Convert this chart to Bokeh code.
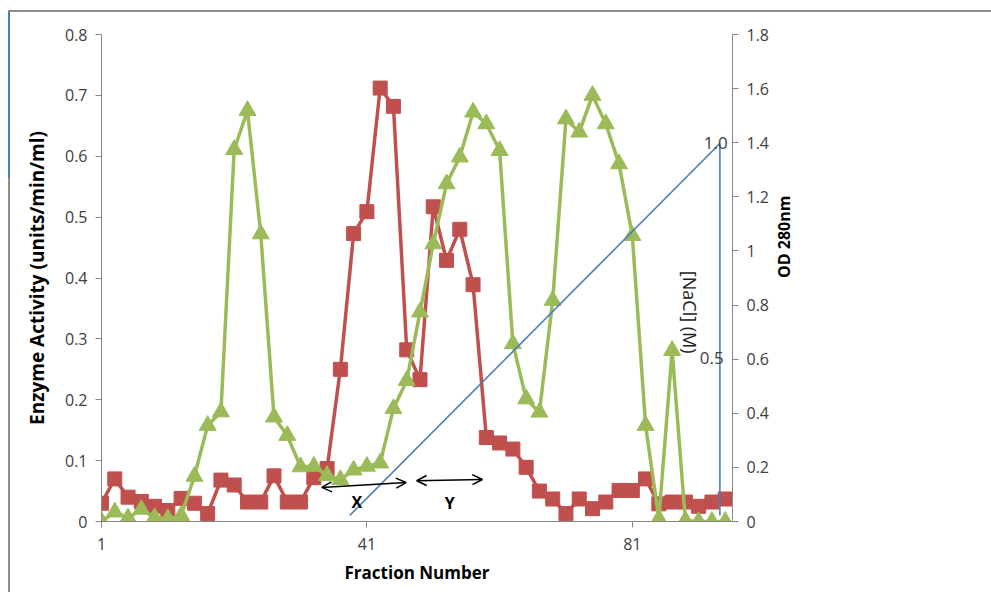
import math
from bokeh.plotting import figure
from bokeh.models import Range1d, LinearAxis, FixedTicker, NumeralTickFormatter, Arrow, OpenHead, Label
from bokeh.embed import file_html
from bokeh.resources import INLINE

# ---------------- data ----------------
fractions = [1, 3, 5, 7, 9, 11, 13, 15, 17, 19, 21, 23, 25, 27, 29, 31,
             33, 35, 37, 39, 41, 43, 45, 47, 49, 51, 53, 55, 57, 59, 61, 63,
             65, 67, 69, 71, 73, 75, 77, 79, 81, 83, 85, 87, 89, 91, 93, 95]
enzyme_activity = [0.030, 0.070, 0.040, 0.033, 0.025, 0.018, 0.038, 0.030,
                   0.013, 0.068, 0.060, 0.032, 0.032, 0.075, 0.032, 0.032,
                   0.072, 0.087, 0.250, 0.473, 0.509, 0.712, 0.682, 0.282,
                   0.233, 0.517, 0.429, 0.480, 0.389, 0.138, 0.129, 0.119,
                   0.089, 0.050, 0.037, 0.013, 0.037, 0.021, 0.032, 0.051,
                   0.051, 0.070, 0.029, 0.032, 0.032, 0.025, 0.032, 0.037]
od280 = [0.000, 0.035, 0.013, 0.045, 0.015, 0.010, 0.022, 0.167,
         0.355, 0.405, 1.375, 1.519, 1.063, 0.386, 0.318, 0.202,
         0.204, 0.170, 0.155, 0.190, 0.204, 0.216, 0.417, 0.521,
         0.774, 1.026, 1.248, 1.347, 1.513, 1.470, 1.371, 0.657,
         0.453, 0.404, 0.817, 1.488, 1.439, 1.575, 1.470, 1.322,
         1.057, 0.355, 0.010, 0.632, 0.004, 0.000, 0.000, 0.000]
nacl_fraction = [38.4, 94.2, 94.2]
nacl_molar = [0.0, 1.0, 0.0]

left_ticks = [0, 0.1, 0.2, 0.3, 0.4, 0.5, 0.6, 0.7, 0.8]
right_ticks = [0, 0.2, 0.4, 0.6, 0.8, 1.0, 1.2, 1.4, 1.6, 1.8]
x_ticks = [1, 41, 81]

RED = "#C0504D"
GREEN = "#9BBB59"
BLUE = "#4A7EBB"
AX = "#868686"
TXT = "#404040"
FONT = "Open Sans"

p = figure(frame_width=631, frame_height=487,
           min_border_left=91, min_border_top=22,
           min_border_right=259, min_border_bottom=71,
           x_range=Range1d(1, 96.1), y_range=Range1d(0, 0.8),
           output_backend="svg", toolbar_location=None, tools="")
p.extra_y_ranges = {"od": Range1d(0, 1.8), "nacl": Range1d(-0.0161, 1.293)}
p.styles = {"margin-left": "8px", "margin-top": "12px",
            "border-left": "2px solid #8e8e8e",
            "border-image": "linear-gradient(to bottom, #4A7EBB 0px, #4A7EBB 166px, #8e8e8e 166px, #8e8e8e 100%) 1",
            "box-shadow": "0px -2px 0px 0px #8e8e8e"}
p.outline_line_color = None
p.xgrid.visible = False
p.ygrid.visible = False
p.background_fill_color = "white"
p.border_fill_color = "white"

right = LinearAxis(y_range_name="od")
p.add_layout(right, "right")

for ax in [p.xaxis[0], p.yaxis[0], right]:
    ax.axis_line_color = AX
    ax.major_tick_line_color = AX
    ax.major_tick_out = 6
    ax.major_tick_in = 0
    ax.minor_tick_line_color = None
    ax.major_label_text_font = FONT
    ax.major_label_text_font_size = "16px"
    ax.major_label_text_color = TXT
    ax.axis_label_text_font = FONT
    ax.axis_label_text_font_style = "bold"
    ax.axis_label_text_color = "black"

p.yaxis[0].ticker = FixedTicker(ticks=left_ticks)
p.yaxis[0].formatter = NumeralTickFormatter(format="0.[0]")
p.yaxis[0].major_label_standoff = 8
p.yaxis[0].axis_label = "Enzyme Activity (units/min/ml)"
p.yaxis[0].axis_label_text_font_size = "19px"
p.yaxis[0].axis_label_standoff = 12

right.ticker = FixedTicker(ticks=right_ticks)
right.formatter = NumeralTickFormatter(format="0.[0]")
right.major_label_standoff = 8
right.axis_label = "OD 280nm"
right.axis_label_text_font_size = "16px"
right.axis_label_standoff = 12
try:
    right.axis_label_orientation = math.pi / 2
except Exception:
    pass

p.xaxis[0].ticker = FixedTicker(ticks=x_ticks)
p.xaxis[0].major_label_standoff = 10
p.xaxis[0].axis_label = "Fraction Number"
p.xaxis[0].axis_label_text_font_size = "17px"
p.xaxis[0].axis_label_standoff = 8

# series
p.line(fractions, enzyme_activity, line_color=RED, line_width=3.5)
p.scatter(fractions, enzyme_activity, marker="square", size=14,
          fill_color=RED, line_color=RED)
p.line(fractions, od280, line_color=GREEN, line_width=3.5, y_range_name="od")
p.scatter(fractions, od280, marker="triangle", size=17,
          fill_color=GREEN, line_color=GREEN, y_range_name="od")
p.line(nacl_fraction, nacl_molar, line_color=BLUE, line_width=1.6,
       y_range_name="nacl")

# NaCl annotations
p.add_layout(Label(x=95.37, y=0.6214, text="1.0", text_align="right",
                   text_baseline="middle", text_font=FONT,
                   text_font_size="17px", text_color=TXT))
p.add_layout(Label(x=94.77, y=0.2689, text="0.5", text_align="right",
                   text_baseline="middle", text_font=FONT,
                   text_font_size="17px", text_color=TXT))
p.add_layout(Label(x=89.65, y=0.3438, text="[NaCl] (M)", angle=-math.pi / 2,
                   text_align="center", text_baseline="middle",
                   text_font=FONT, text_font_size="18px",
                   text_color="#222222"))

# X / Y arrows
arrow_x0 = [34.2, 48.5]
arrow_y0 = [0.056, 0.067]
arrow_x1 = [46.9, 58.4]
arrow_y1 = [0.064, 0.069]
for xs, ys, xe, ye in zip(arrow_x0, arrow_y0, arrow_x1, arrow_y1):
    p.add_layout(Arrow(x_start=xs, y_start=ys, x_end=xe, y_end=ye,
                       line_color="black", line_width=1.5,
                       start=OpenHead(size=10, line_width=1.5, line_color="black"),
                       end=OpenHead(size=10, line_width=1.5, line_color="black")))
p.add_layout(Label(x=39.5, y=0.032, text="X", text_align="center",
                   text_baseline="middle", text_font=FONT, text_font_style="bold",
                   text_font_size="16px", text_color="black"))
p.add_layout(Label(x=53.5, y=0.030, text="Y", text_align="center",
                   text_baseline="middle", text_font=FONT, text_font_style="bold",
                   text_font_size="16px", text_color="black"))

open("out.html", "w").write(file_html(p, INLINE))
